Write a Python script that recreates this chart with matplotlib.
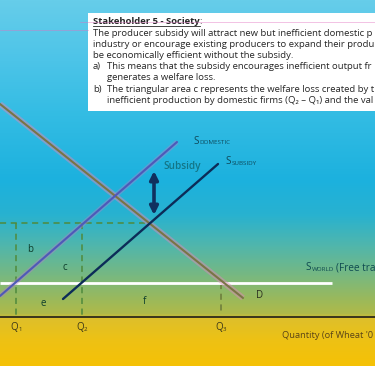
import numpy as np
import matplotlib
matplotlib.use("Agg")
import matplotlib.pyplot as plt
from matplotlib.colors import LinearSegmentedColormap
from matplotlib.patches import Rectangle, FancyArrowPatch

# ---------------- data (diagram units: quantity on x, price on y) ----------------
demand_q = [0, 243]
demand_p = [262, 68]
s_domestic_q = [0, 177]
s_domestic_p = [70, 224]
s_subsidy_q = [63, 218]
s_subsidy_p = [67, 202]
world_q = [0, 332]
world_price = 83
subsidy_price = 143          # price received by domestic producers with subsidy
q_labels = ["Q", "Q", "Q"]
q_subs = ["1", "2", "3"]
q_values = [16, 82, 221]
area_labels = ["b", "c", "e", "f"]
area_q = [30, 65, 43, 144]
area_p = [117, 98, 63, 64]
axis_price = 49
arrow_q = 154
arrow_p = [195, 151]

box_lines = [
    "The producer subsidy will attract new but inefficient domestic p",
    "industry or encourage existing producers to expand their produ",
    "be economically efficient without the subsidy.",
]
box_items = [
    ("a)", ["This means that the subsidy encourages inefficient output fr",
            "generates a welfare loss."]),
    ("b)", ["The triangular area c represents the welfare loss created by t",
            "inefficient production by domestic firms (Q\u2082 \u2013 Q\u2081) and the val"]),
]

W, H = 375, 366
fig = plt.figure(figsize=(W / 100, H / 100), dpi=100)
ax = fig.add_axes([0, 0, 1, 1])
ax.set_xlim(0, W)
ax.set_ylim(0, H)
ax.axis("off")

def Y(py):
    return H - py

# ---------------- background gradient ----------------
stops = [(0, "#66cdea"), (60, "#4cc4e8"), (110, "#35bde4"), (180, "#1cb1de"),
         (215, "#28b2d0"), (245, "#4fb6ad"), (275, "#76b882"), (300, "#9bb95b"),
         (315, "#b0ba48"), (318, "#ddbf2c"), (340, "#edc215"), (366, "#f5c106")]
cmap = LinearSegmentedColormap.from_list("bg", [(s / H, c) for s, c in stops])
grad = np.linspace(0, 1, 600).reshape(-1, 1)
ax.imshow(grad, cmap=cmap, aspect="auto", extent=[0, W, 0, H], origin="upper", zorder=0)

# ---------------- text box ----------------
ax.add_patch(Rectangle((88, Y(111)), 300, 98, facecolor="white", edgecolor="none", zorder=1))
tf = ["Open Sans", "DejaVu Sans"]
fs_box = 6.8
col_box = "#262626"
t = ax.text(93, Y(22), "Stakeholder 5 - Society", fontsize=fs_box, fontweight="bold",
            family=tf, color=col_box, va="center", zorder=3)
fig.canvas.draw()
bb = t.get_window_extent(fig.canvas.get_renderer())
ax.plot([bb.x0, bb.x1], [bb.y0 + 1, bb.y0 + 1], color=col_box, lw=0.6, zorder=3)
ax.text(bb.x1, Y(22), ":", fontsize=fs_box, family=tf, color=col_box, va="center", zorder=3)
yy = 33.5
for line in box_lines:
    ax.text(93, Y(yy), line, fontsize=fs_box, family=tf, color=col_box, va="center", zorder=3)
    yy += 11
for tag, lines in box_items:
    ax.text(93, Y(yy), tag, fontsize=fs_box, family=tf, color=col_box, va="center", zorder=3)
    for line in lines:
        ax.text(107, Y(yy), line, fontsize=fs_box, family=tf, color=col_box, va="center", zorder=3)
        yy += 11.3
# faint pink artifact lines
ax.plot([80, W], [Y(22), Y(22)], color="#e070c0", lw=0.5, alpha=0.6, zorder=4)
ax.plot([0, 88], [Y(30), Y(30)], color="#e070c0", lw=0.5, alpha=0.6, zorder=4)

# ---------------- dashed guide lines ----------------
dash_col = "#4f8a3c"
ax.plot([0, 150], [subsidy_price, subsidy_price], color=dash_col, lw=1.1,
        dashes=(4, 3), zorder=2)
for q in q_values[:2]:
    ax.plot([q, q], [subsidy_price, axis_price], color=dash_col, lw=1.1,
            dashes=(4, 3), zorder=2)
ax.plot([q_values[2], q_values[2]], [world_price, axis_price + 4], color="#6a7a3a",
        lw=1.1, dashes=(4, 3), zorder=2)

# ---------------- world supply ----------------
ax.plot(world_q, [world_price, world_price], color="white", lw=2.0, zorder=3,
        solid_capstyle="butt")

# ---------------- supply & demand curves ----------------
ax.plot(demand_q, demand_p, color="#d88ab8", lw=4.2, alpha=0.5, zorder=4,
        solid_capstyle="butt")
ax.plot(demand_q, demand_p, color="#7a7446", lw=1.5, zorder=5, solid_capstyle="round")
ax.plot(s_domestic_q, s_domestic_p, color="#b080c8", lw=3.6, alpha=0.4, zorder=4,
        solid_capstyle="butt")
ax.plot(s_domestic_q, s_domestic_p, color="#4f58b8", lw=1.5, zorder=5, solid_capstyle="round")
ax.plot(s_subsidy_q, s_subsidy_p, color="#0c2c58", lw=1.7, zorder=5, solid_capstyle="round")

# ---------------- x axis ----------------
ax.plot([0, W], [axis_price, axis_price], color="#2e2a1a", lw=1.3, zorder=5)

# ---------------- subsidy arrow ----------------
arr = FancyArrowPatch((arrow_q, arrow_p[0]), (arrow_q, arrow_p[1]), arrowstyle="<|-|>",
                      mutation_scale=12, color="#10305e", lw=2.6, zorder=6,
                      shrinkA=0, shrinkB=0)
ax.add_patch(arr)

# ---------------- labels ----------------
lf = ["Open Sans", "DejaVu Sans"]
ax.text(163, Y(166), "Subsidy", fontsize=7.2, family=lf, color="#137586",
        fontweight="semibold", va="center", zorder=6)

def s_label(x, py, small, col, fs=7.2, fs_small=4.5, rest=None):
    ax.text(x, Y(py), "S", fontsize=fs, family=lf, color=col, va="center", zorder=6)
    tsm = ax.text(x + 6.8, Y(py + 1.5), small, fontsize=fs_small, family=lf, color=col,
                  va="center", zorder=6)
    if rest:
        fig.canvas.draw()
        b = tsm.get_window_extent(fig.canvas.get_renderer())
        ax.text(b.x1 + 1.5, Y(py), rest, fontsize=fs, family=lf, color=col,
                va="center", zorder=6)

s_label(193, 141, "DOMESTIC", "#0e4a5c")
s_label(225, 162, "SUBSIDY", "#0e4a5c")
s_label(305, 268, "WORLD", "#0e4a50", rest="(Free tra")

ax.text(256, Y(296), "D", fontsize=7, family=lf, color="#2c3020", va="center", zorder=6)
for lab, q, p in zip(area_labels, area_q, area_p):
    ax.text(q, p, lab, fontsize=7, family=lf, color="#0d3d2c", va="center",
            ha="center", zorder=6)
for lab, sub, q in zip(q_labels, q_subs, q_values):
    ax.text(q - 1.5, Y(327), lab, fontsize=7, family=lf, color="#3a3618",
            va="center", ha="center", zorder=6)
    ax.text(q + 3.8, Y(329.5), sub, fontsize=4.4, family=lf, color="#3a3618",
            va="center", ha="center", zorder=6)
ax.text(282, Y(335), "Quantity (of Wheat '0", fontsize=6.7, family=lf, color="#5a4416",
        va="center", zorder=6)

fig.savefig("out.png", dpi=100)
